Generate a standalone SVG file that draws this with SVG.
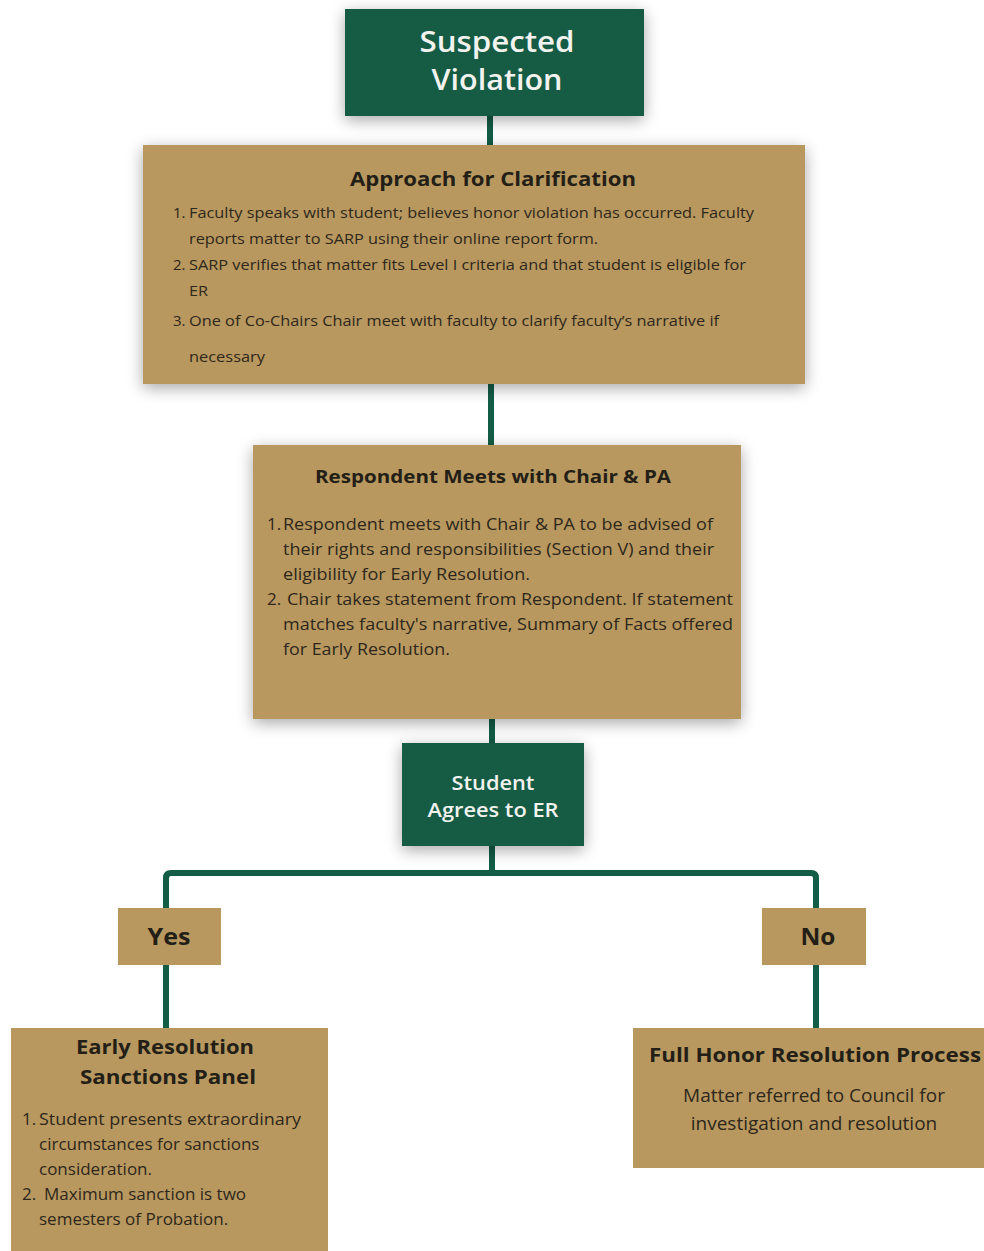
<svg xmlns="http://www.w3.org/2000/svg" width="984" height="1251" viewBox="0 0 984 1251">
<defs>
<filter id="sh" x="-10%" y="-20%" width="120%" height="150%">
<feGaussianBlur in="SourceAlpha" stdDeviation="8"/>
<feOffset dx="0" dy="4" result="b"/>
<feComponentTransfer><feFuncA type="linear" slope="0.35"/></feComponentTransfer>
<feMerge><feMergeNode/><feMergeNode in="SourceGraphic"/></feMerge>
</filter>
<style>
.g{fill:#135c45}
.t{fill:#b8985f}
.wt{fill:#f2f2ee;font-family:"Open Sans",sans-serif;font-weight:600;text-anchor:middle}
.hd{fill:#231f17;font-family:"Open Sans",sans-serif;font-weight:700;text-anchor:middle}
.bd{fill:#2d271b;font-family:"Open Sans",sans-serif}
.ln{stroke:#135c45;stroke-width:6;fill:none;stroke-linejoin:round}
</style>
</defs>
<rect width="984" height="1251" fill="#ffffff"/>
<g id="connectors">
<line class="ln" x1="490" y1="110" x2="490" y2="150"/>
<line class="ln" x1="491" y1="380" x2="491" y2="450"/>
<line class="ln" x1="492" y1="715" x2="492" y2="748"/>
<line class="ln" x1="492" y1="842" x2="492" y2="873"/>
<path class="ln" d="M166,912 V878 Q166,873 171,873 H811 Q816,873 816,878 V912"/>
<line class="ln" x1="166" y1="960" x2="166" y2="1032"/>
<line class="ln" x1="816" y1="960" x2="816" y2="1032"/>
</g>
<g id="suspected">
<rect class="g" x="345" y="9" width="299" height="107" filter="url(#sh)"/>
<text class="wt" x="497" y="52" font-size="28" textLength="155" lengthAdjust="spacingAndGlyphs">Suspected</text>
<text class="wt" x="497" y="90" font-size="28" textLength="131" lengthAdjust="spacingAndGlyphs">Violation</text>
</g>
<g id="approach">
<rect class="t" x="143" y="145" width="662" height="239" filter="url(#sh)"/>
<text class="hd" x="493" y="186" font-size="20" font-weight="600" textLength="286" lengthAdjust="spacingAndGlyphs">Approach for Clarification</text>
<g class="bd" font-size="15">
<text x="173" y="218">1.</text><text x="189" y="218" textLength="565" lengthAdjust="spacingAndGlyphs">Faculty speaks with student; believes honor violation has occurred. Faculty</text>
<text x="189" y="244" textLength="409" lengthAdjust="spacingAndGlyphs">reports matter to SARP using their online report form.</text>
<text x="173" y="270">2.</text><text x="189" y="270" textLength="557" lengthAdjust="spacingAndGlyphs">SARP verifies that matter fits Level I criteria and that student is eligible for</text>
<text x="189" y="296" textLength="19" lengthAdjust="spacingAndGlyphs">ER</text>
<text x="173" y="326">3.</text><text x="189" y="326" textLength="530" lengthAdjust="spacingAndGlyphs">One of Co-Chairs Chair meet with faculty to clarify faculty’s narrative if</text>
<text x="189" y="362" textLength="76" lengthAdjust="spacingAndGlyphs">necessary</text>
</g>
</g>
<g id="respondent">
<rect class="t" x="253" y="445" width="488" height="274" filter="url(#sh)"/>
<text class="hd" x="493" y="483" font-size="18" textLength="356" lengthAdjust="spacingAndGlyphs">Respondent Meets with Chair &amp; PA</text>
<g class="bd" font-size="17">
<text x="267" y="530">1.</text><text x="283" y="530" textLength="430" lengthAdjust="spacingAndGlyphs">Respondent meets with Chair &amp; PA to be advised of</text>
<text x="283" y="555" textLength="431" lengthAdjust="spacingAndGlyphs">their rights and responsibilities (Section V) and their</text>
<text x="283" y="580" textLength="247" lengthAdjust="spacingAndGlyphs">eligibility for Early Resolution.</text>
<text x="267" y="605">2.</text><text x="287" y="605" textLength="446" lengthAdjust="spacingAndGlyphs">Chair takes statement from Respondent. If statement</text>
<text x="283" y="630" textLength="450" lengthAdjust="spacingAndGlyphs">matches faculty's narrative, Summary of Facts offered</text>
<text x="283" y="655" textLength="167" lengthAdjust="spacingAndGlyphs">for Early Resolution.</text>
</g>
</g>
<g id="agrees">
<rect class="g" x="402" y="743" width="182" height="103" filter="url(#sh)"/>
<text class="wt" x="493" y="790" font-size="19" textLength="83" lengthAdjust="spacingAndGlyphs">Student</text>
<text class="wt" x="493" y="817" font-size="19" textLength="131" lengthAdjust="spacingAndGlyphs">Agrees to ER</text>
</g>
<g id="yes">
<rect class="t" x="118" y="908" width="103" height="57"/>
<text class="hd" x="169" y="945" font-size="23" font-weight="600" textLength="43" lengthAdjust="spacingAndGlyphs">Yes</text>
</g>
<g id="no">
<rect class="t" x="762" y="908" width="104" height="57"/>
<text class="hd" x="818" y="945" font-size="23" font-weight="600" textLength="35" lengthAdjust="spacingAndGlyphs">No</text>
</g>
<g id="early">
<rect class="t" x="11" y="1028" width="317" height="223"/>
<text class="hd" x="165" y="1054" font-size="20" font-weight="600" textLength="178" lengthAdjust="spacingAndGlyphs">Early Resolution</text>
<text class="hd" x="168" y="1084" font-size="20" font-weight="600" textLength="176" lengthAdjust="spacingAndGlyphs">Sanctions Panel</text>
<g class="bd" font-size="17">
<text x="22" y="1125">1.</text><text x="39" y="1125" textLength="262" lengthAdjust="spacingAndGlyphs">Student presents extraordinary</text>
<text x="39" y="1150">circumstances for sanctions</text>
<text x="39" y="1175">consideration.</text>
<text x="22" y="1200">2.</text><text x="44" y="1200">Maximum sanction is two</text>
<text x="39" y="1225">semesters of Probation.</text>
</g>
</g>
<g id="full">
<rect class="t" x="633" y="1028" width="351" height="140"/>
<text class="hd" x="815" y="1062" font-size="20" textLength="332" lengthAdjust="spacingAndGlyphs">Full Honor Resolution Process</text>
<text class="bd" x="814" y="1102" font-size="19" text-anchor="middle">Matter referred to Council for</text>
<text class="bd" x="814" y="1130" font-size="19" text-anchor="middle">investigation and resolution</text>
</g>
</svg>
